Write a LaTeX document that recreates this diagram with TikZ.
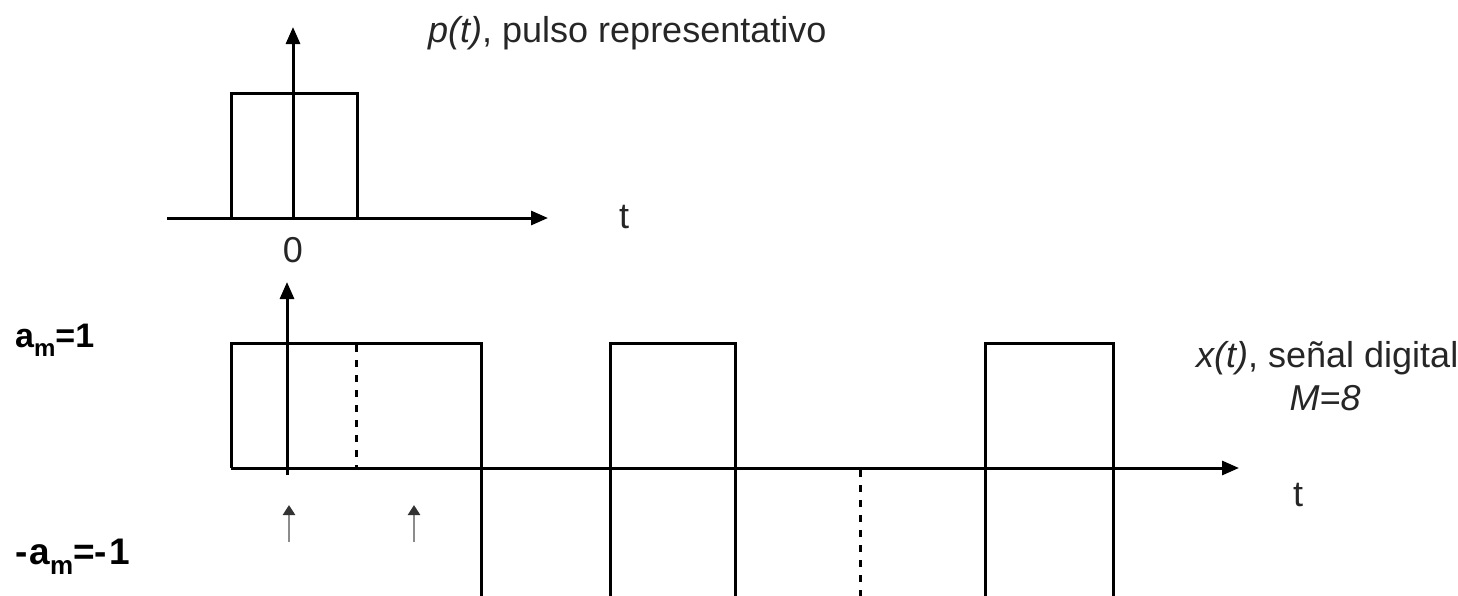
\documentclass[tikz,border=0pt]{standalone}
\usepackage{fontspec}
\setmainfont{Liberation Sans}
\usetikzlibrary{arrows.meta}
\tikzset{
  axis/.style={line width=3pt,-{Triangle[length=17pt,width=14pt]}},
  sig/.style={line width=3pt,line join=miter},
  dotline/.style={line width=3pt,dash pattern=on 7pt off 8pt},
  mark arrow/.style={line width=2.5pt,draw=black!45,-{Triangle[length=10pt,width=12pt,color=black!80]}},
  lbl/.style={inner sep=0pt,font=\fontsize{36}{40}\selectfont,text=black!85},
  boldlbl/.style={inner sep=0pt,font=\fontsize{34}{38}\selectfont\bfseries},
  boldlblbig/.style={inner sep=0pt,font=\fontsize{37}{40}\selectfont\bfseries}
}
\newcommand{\msub}{\raisebox{-0.28em}{\fontsize{24}{24}\selectfont m}}
\newcommand{\msubbig}{\raisebox{-0.28em}{\fontsize{26}{26}\selectfont m}}
\begin{document}
\begin{tikzpicture}[x=1pt,y=-1pt]
\useasboundingbox (0,0) rectangle (1458,595);
\clip (0,0) rectangle (1458,595);
% upper plot
\coordinate (ua0) at (167,218);
\coordinate (ua1) at (548,218);
\coordinate (uv0) at (293,218);
\coordinate (uv1) at (293,27);
\draw[axis] (ua0) -- (ua1);
\draw[axis] (uv0) -- (uv1);
\coordinate (p0) at (231,218);
\coordinate (p1) at (357,93);
\draw[sig] (p0) rectangle (p1);
\node[lbl,anchor=base west] (ptitle) at (428,42) {\textit{p(t)}, pulso representativo};
\node[lbl] (zero) at (293,250) {0};
\node[lbl] (ut) at (624,217) {t};
% lower plot
\coordinate (la0) at (231,468);
\coordinate (la1) at (1239,468);
\coordinate (lv0) at (287,475);
\coordinate (lv1) at (287,282);
\draw[axis] (la0) -- (la1);
\draw[axis] (lv0) -- (lv1);
\coordinate (s0) at (231,468);
\draw[sig] (s0) -- (231,343) -- (481,343) -- (481,600);
\draw[sig] (610,600) -- (610,343) -- (735,343) -- (735,600);
\draw[sig] (985,600) -- (985,343) -- (1113,343) -- (1113,600);
\coordinate (d0) at (356,345);
\coordinate (d1) at (356,468);
\draw[dotline] (d0) -- (d1);
\coordinate (d2) at (860,470);
\coordinate (d3) at (860,600);
\draw[dotline] (d2) -- (d3);
\coordinate (m0) at (289,542);
\coordinate (m1) at (289,505);
\coordinate (m2) at (414,542);
\coordinate (m3) at (414,505);
\draw[mark arrow] (m0) -- (m1);
\draw[mark arrow] (m2) -- (m3);
\node[lbl,anchor=base west] (xtitle) at (1196,367) {\textit{x(t)}, señal digital};
\node[lbl] (mlbl) at (1325,398) {\textit{M=8}};
\node[lbl] (lt) at (1298,495) {t};
\node[boldlbl,anchor=base west] (aplus) at (15,347) {a\msub=1};
\node[boldlblbig,anchor=base west] (aminus) at (15,564) {-\hspace{2pt}a\msubbig=-\hspace{2pt}1};
\end{tikzpicture}
\end{document}
